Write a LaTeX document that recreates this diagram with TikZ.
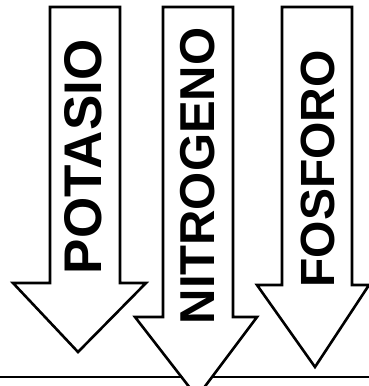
\documentclass[tikz,border=0pt]{standalone}
\usepackage{fontspec}
\newfontfamily\arrowfont{Liberation Sans}
\usetikzlibrary{positioning}

\begin{document}
\begin{tikzpicture}[
    x=1pt, y=-1pt,
    fatarrow/.style={draw, line width=2.6pt, line join=miter, fill=white},
    nutrient/.style={rotate=90, inner sep=0pt, font=\arrowfont\bfseries}
]
\useasboundingbox (0,0) rectangle (369,386);

% -------------------------------------------------------------------------
% Base line of the strip at the bottom (drawn first, arrows cover it)
% -------------------------------------------------------------------------
\coordinate (baseL) at (0,377);
\coordinate (baseR) at (369,377);
\draw[line width=2pt] (baseL) -- (baseR);

% -------------------------------------------------------------------------
% Three fat down arrows
% -------------------------------------------------------------------------

% Left arrow (x = 50 .. 120)
\draw[fatarrow] (50,7) -- (120,7) -- (120,283) -- (146,283) -- (78,352)
    -- (13,283) -- (50,283) -- cycle;

% Middle arrow (x = 163 .. 233), tip runs below the base line
\draw[fatarrow] (163,7) -- (233,7) -- (233,317) -- (257,317) -- (197,397)
    -- (135,317) -- (163,317) -- cycle;

% Right arrow (x = 282 .. 352)
\draw[fatarrow] (282,7) -- (352,7) -- (352,285) -- (369,285) -- (315,367)
    -- (257,285) -- (282,285) -- cycle;

% -------------------------------------------------------------------------
% Labels inside the shafts
% -------------------------------------------------------------------------
\node[nutrient, font=\arrowfont\bfseries\fontsize{53}{53}\selectfont] (potasio) at (83,157) {POTASIO};
\node[nutrient, font=\arrowfont\bfseries\fontsize{49}{49}\selectfont] (nitrogeno) at (198,176) {NITROGENO};
\node[nutrient, font=\arrowfont\bfseries\fontsize{48}{48}\selectfont] (fosforo) at (318,169) {FOSFORO};

\end{tikzpicture}
\end{document}
